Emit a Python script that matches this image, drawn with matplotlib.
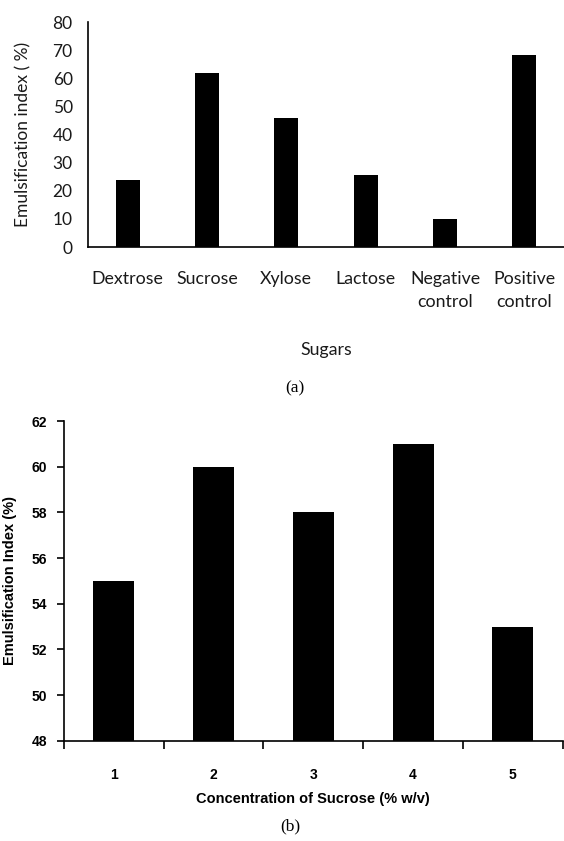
import matplotlib
matplotlib.use("Agg")
import matplotlib.pyplot as plt

# panel (a): emulsification index for each sugar
sugars = ["Dextrose", "Sucrose", "Xylose", "Lactose", "Negative\ncontrol", "Positive\ncontrol"]
sugar_ei = [23.7, 62, 45.8, 25.5, 10, 68.1]

# panel (b): emulsification index vs sucrose concentration
sucrose_conc = ["1", "2", "3", "4", "5"]
sucrose_ei = [55, 60, 58, 61, 53]

reg = ["Lato", "DejaVu Sans"]
bold = ["Liberation Sans", "DejaVu Sans"]

fig = plt.figure(figsize=(5.64, 8.41), dpi=100)

# ---- (a) ----
ax1 = fig.add_axes([0.156, 0.7063, 0.844, 0.2675])
ax1.bar(range(len(sugars)), sugar_ei, width=0.3, color="black")
ax1.set_xlim(-0.5, len(sugars) - 0.5)
ax1.set_ylim(0, 80)
ax1.set_yticks(range(0, 81, 10))
ax1.set_xticks(range(len(sugars)))
ax1.set_xticklabels(sugars, family=reg, fontsize=12.8, linespacing=1.6, color="#1a1a1a")
for lab in ax1.get_yticklabels():
    lab.set_family(reg)
    lab.set_fontsize(12.5)
    lab.set_color("#1a1a1a")
ax1.tick_params(axis="x", length=0, pad=17)
ax1.tick_params(axis="y", length=0, pad=11)
for s in ["top", "right"]:
    ax1.spines[s].set_visible(False)
ax1.spines["left"].set_linewidth(1.2)
ax1.spines["bottom"].set_linewidth(1.2)
ax1.set_ylabel("Emulsification index ( %)", family=reg, fontsize=12.5, color="#1a1a1a", labelpad=15)
fig.text(0.578, 1 - 350 / 841, "Sugars", family=reg, fontsize=12.8, color="#1a1a1a",
         ha="center", va="center")
fig.text(295 / 564, 1 - 388 / 841, "(a)", family="Liberation Serif", fontsize=12.5,
         ha="center", va="center")

# ---- (b) ----
ax2 = fig.add_axes([0.1135, 0.1193, 0.8842, 0.3801])
ax2.bar(range(len(sucrose_conc)), sucrose_ei, width=0.41, color="black")
ax2.set_xlim(-0.5, len(sucrose_conc) - 0.5)
ax2.set_ylim(48, 62)
ax2.set_yticks(range(48, 63, 2))
ax2.set_xticks(range(len(sucrose_conc)))
ax2.set_xticklabels(sucrose_conc)
ax2.set_xticks([i - 0.5 for i in range(len(sucrose_conc) + 1)], minor=True)
ax2.tick_params(axis="x", which="major", length=0, pad=20)
ax2.tick_params(axis="x", which="minor", length=6, width=1.2, direction="out")
ax2.tick_params(axis="y", length=5, width=1.2, direction="out", pad=7)
for lab in ax2.get_xticklabels() + ax2.get_yticklabels():
    lab.set_family(bold)
    lab.set_fontweight("bold")
    lab.set_fontsize(10)
for s in ["top", "right"]:
    ax2.spines[s].set_visible(False)
ax2.spines["left"].set_linewidth(1.2)
ax2.spines["bottom"].set_linewidth(1.2)
ax2.set_ylabel("Emulsification Index (%)", family=bold, fontweight="bold", fontsize=10.5, labelpad=11)
ax2.set_xlabel("Concentration of Sucrose (% w/v)", family=bold, fontweight="bold", fontsize=10.5, labelpad=7)
fig.text(290 / 564, 1 - 826 / 841, "(b)", family="Liberation Serif", fontsize=12.5,
         ha="center", va="center")

fig.savefig("out.png", dpi=100)
